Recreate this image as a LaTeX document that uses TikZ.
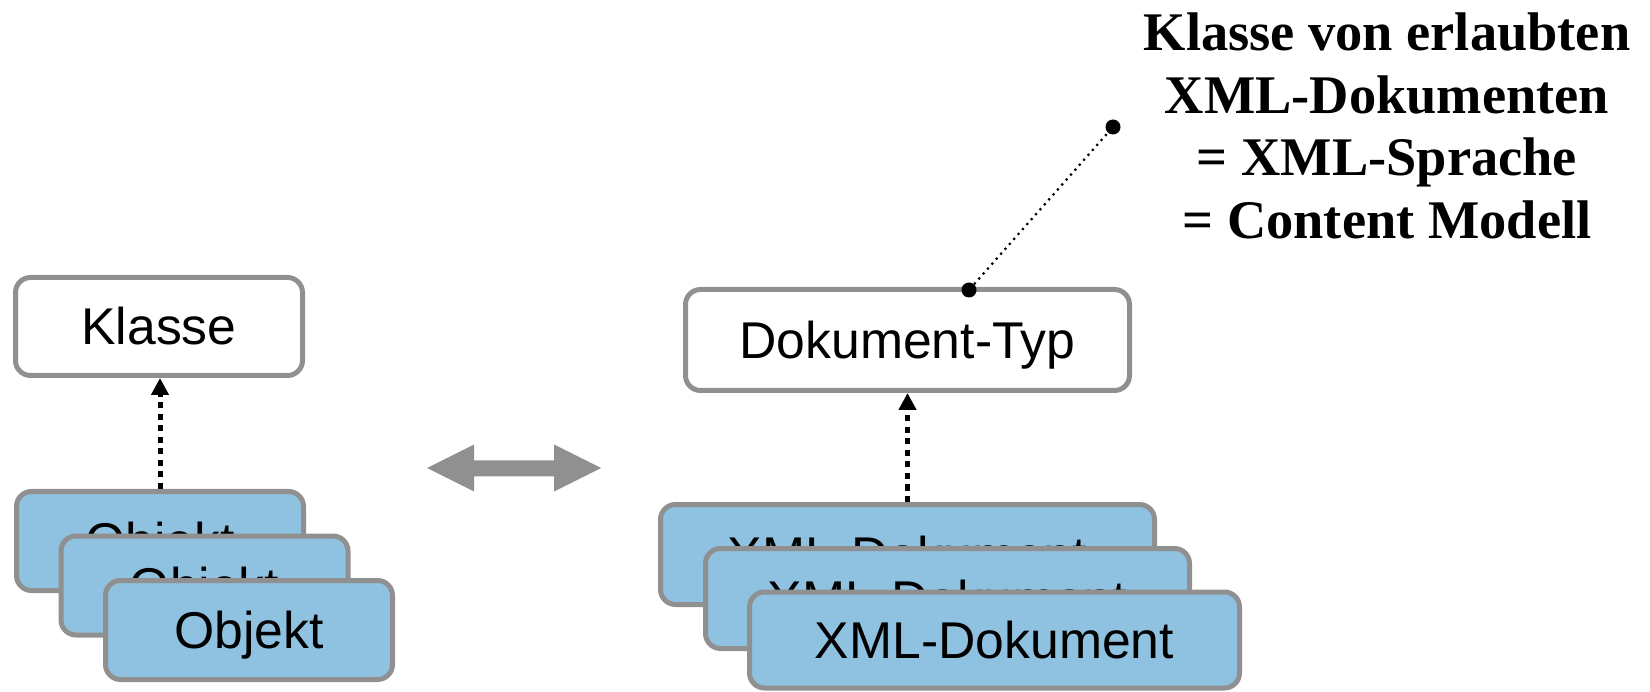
\documentclass[tikz,border=0pt]{standalone}
\usepackage{fontspec}
\setmainfont{Liberation Serif}
\newfontfamily\boxfamily{Liberation Sans}
\usetikzlibrary{arrows.meta}

\definecolor{edgegray}{HTML}{909090}
\definecolor{boxblue}{HTML}{8FC1E0}

\tikzset{
  plainbox/.style={draw=edgegray, line width=5pt, rounded corners=15pt, fill=white,
    inner sep=0pt, text height=37pt, text depth=0pt,
    font=\boxfamily\fontsize{51.7}{60}\selectfont},
  instbox/.style={plainbox, fill=boxblue},
  realize/.style={line width=5pt, dash pattern=on 6pt off 5.5pt,
    -{Triangle[width=17pt,length=17pt]}},
  pin/.style={circle, fill=black, inner sep=0pt, minimum size=15pt},
  leader/.style={line width=2.2pt, dash pattern=on 2.2pt off 4.4pt},
  bidir/.style={fill=edgegray},
  note/.style={align=center, inner sep=0pt,
    font=\bfseries\fontsize{54.4}{62.5}\selectfont}
}

\begin{document}
\begin{tikzpicture}[x=1pt, y=-1pt]
  \useasboundingbox (0,0) rectangle (1650,692);

  % class side
  \node[plainbox, minimum width=287pt, minimum height=98pt] (kl) at (159,326.5) {Klasse};
  \node[instbox, minimum width=287pt, minimum height=99pt] (o1) at (160,541) {Objekt};
  \node[instbox, minimum width=287pt, minimum height=99pt] (o2) at (204.5,585.5) {Objekt};
  \node[instbox, minimum width=287pt, minimum height=99pt] (o3) at (249,630) {Objekt};
  \draw[realize] (o1.north) -- (o1.north |- kl.south);

  % correspondence
  \fill[bidir] (427,468) -- (474,444.5) -- (474,460.5) -- (554,460.5) -- (554,444.5)
    -- (601,468) -- (554,491.5) -- (554,476.5) -- (474,476.5) -- (474,491.5) -- cycle;

  % document side
  \node[plainbox, minimum width=444pt, minimum height=101pt] (dt) at (907.5,340) {Dokument-Typ};
  \node[instbox, minimum width=494pt, minimum height=100pt] (x1) at (907.5,554.5) {XML-Dokument};
  \node[instbox, minimum width=484pt, minimum height=100pt] (x2) at (947.5,598.5) {XML-Dokument};
  \node[instbox, minimum width=490pt, minimum height=96pt] (x3) at (994.5,640) {XML-Dokument};
  \draw[realize] (x1.north) -- (x1.north |- dt.south);

  % annotation
  \node[pin] (p1) at (969,290) {};
  \node[pin] (p2) at (1113,127) {};
  \draw[leader] (p1) -- (p2);
  \node[note, anchor=north] (txt) at (1387,13) {Klasse von erlaubten\\XML-Dokumenten\\= XML-Sprache\\= Content Modell};
\end{tikzpicture}
\end{document}
